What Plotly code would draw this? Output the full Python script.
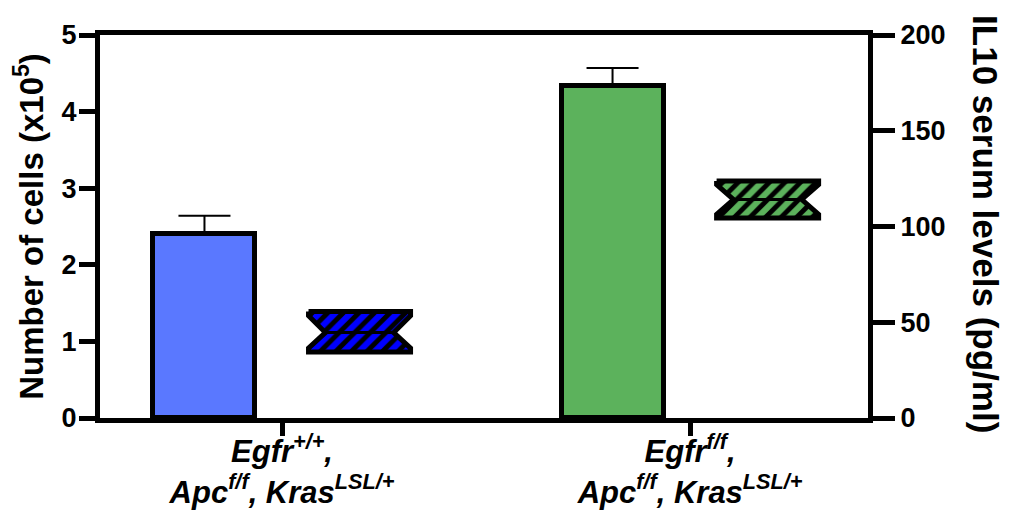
import plotly.graph_objects as go

# ---- data ----
categories = ["<i>Egfr<sup>+/+</sup>,</i><br><i>Apc<sup>f/f</sup>, Kras<sup>LSL/+</sup></i>",
              "<i>Egfr<sup>f/f</sup>,</i><br><i>Apc<sup>f/f</sup>, Kras<sup>LSL/+</sup></i>"]
cells_mean = [2.40, 4.33]          # Number of cells (x10^5)
cells_err = [0.24, 0.24]
il10_q1 = [34.5, 104.4]            # IL10 serum levels (pg/ml)
il10_median = [44.6, 114.1]
il10_q3 = [55.6, 123.8]

bar_colors = ["#5A78FF", "#5CB25C"]
box_colors = ["#0000FF", "#5CB25C"]

cat_pos = list(range(len(categories)))
offset = 0.19
width = 0.25
notch_frac = 0.33
notch_span = 0.8

fig = go.Figure()

fig.add_trace(go.Bar(
    x=[p - offset for p in cat_pos], y=cells_mean, width=width,
    marker=dict(color=bar_colors, line=dict(color="black", width=5)),
    error_y=dict(type="data", array=cells_err, arrayminus=[0] * len(cells_err),
                 symmetric=False, color="black", thickness=2, width=26),
    showlegend=False, yaxis="y"))

for i, p in enumerate(cat_pos):
    c = p + offset
    h = width / 2
    d = h * notch_frac
    q1, m, q3 = il10_q1[i], il10_median[i], il10_q3[i]
    un = m + notch_span * (q3 - m)
    ln = m - notch_span * (m - q1)
    xs = [c - h, c + h, c + h, c + h - d, c + h, c + h, c - h, c - h, c - h + d, c - h, c - h]
    ys = [q3, q3, un, m, ln, q1, q1, ln, m, un, q3]
    fig.add_trace(go.Scatter(
        x=xs, y=ys, mode="lines", fill="toself",
        fillcolor=box_colors[i],
        fillpattern=dict(shape="/", bgcolor="black", fgcolor=box_colors[i],
                         size=11, solidity=0.55, fillmode="replace"),
        line=dict(color="black", width=5), showlegend=False, yaxis="y2"))
    fig.add_trace(go.Scatter(
        x=[c - h + d, c + h - d], y=[m, m], mode="lines",
        line=dict(color="black", width=3), showlegend=False, yaxis="y2"))

FONT = "Liberation Sans, Arial"
tick_font = dict(family=FONT, size=27, color="black", weight="bold")

fig.update_layout(
    width=1005, height=502,
    margin=dict(l=92, r=145, t=27, b=92, autoexpand=False),
    plot_bgcolor="white", paper_bgcolor="white",
    bargap=0,
    xaxis=dict(range=[-0.446, 1.436], tickvals=cat_pos, ticktext=categories,
               showline=True, linewidth=5, linecolor="black", mirror=True,
               ticks="outside", ticklen=13, tickwidth=5, tickcolor="black",
               showgrid=False, zeroline=False, automargin=False,
               ticklabelstandoff=-11,
               tickfont=dict(family=FONT, size=31, color="black", weight="bold")),
    yaxis=dict(range=[0, 5], dtick=1, showline=True, linewidth=5, linecolor="black",
               ticks="outside", ticklen=16, tickwidth=5, tickcolor="black",
               showgrid=False, zeroline=False, tickfont=tick_font, automargin=False,
               ticklabelstandoff=-3,
               title=dict(text="Number of cells (x10<sup>5</sup>)", standoff=20,
                          font=dict(family=FONT, size=33, color="black", weight="bold"))),
    yaxis2=dict(range=[0, 200], dtick=50, overlaying="y", side="right",
                showline=True, linewidth=5, linecolor="black",
                ticks="outside", ticklen=22, tickwidth=5, tickcolor="black",
                showgrid=False, zeroline=False, tickfont=tick_font, automargin=False),
    annotations=[dict(text="IL10 serum levels (pg/ml)", textangle=90,
                      xref="paper", yref="paper", x=1.152, y=0.507,
                      xanchor="center", yanchor="middle", showarrow=False,
                      font=dict(family=FONT, size=35, color="black", weight="bold"))],
)

fig.write_html("out.html")
